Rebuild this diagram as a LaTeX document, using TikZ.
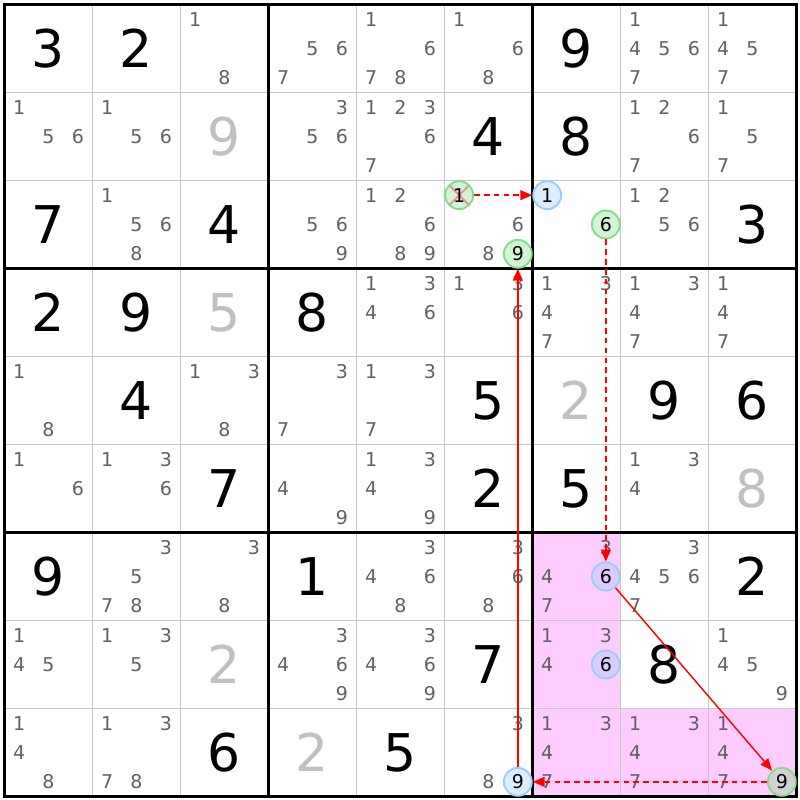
\documentclass[tikz,border=0pt]{standalone}
\usepackage{fontspec}
\setmainfont{DejaVu Sans}
\usetikzlibrary{arrows.meta}

\definecolor{candgray}{RGB}{96,96,96}
\definecolor{solvedgray}{RGB}{192,192,192}
\definecolor{gridgray}{RGB}{200,200,200}
\definecolor{hilite}{RGB}{255,204,255}
\definecolor{pickblue}{RGB}{153,204,255}
\definecolor{pickgreen}{RGB}{130,220,140}
\definecolor{crossred}{RGB}{240,140,140}
\definecolor{arcred}{RGB}{255,0,0}

\begin{document}
\begin{tikzpicture}[
    x=2.2cm, y=-2.2cm,
    given/.style={font=\fontsize{37}{37}\selectfont, inner sep=0},
    solved/.style={given, text=solvedgray},
    cand/.style={font=\fontsize{13.5}{13.5}\selectfont, text=candgray, inner sep=0},
    pick/.style={circle, minimum size=0.7cm, inner sep=0, line width=1.3pt,
        fill opacity=0.35, text opacity=1, font=\fontsize{13.5}{13.5}\selectfont},
    bluepick/.style={pick, draw=pickblue, fill=pickblue},
    greenpick/.style={pick, draw=pickgreen, fill=pickgreen},
    crossed/.style={path picture={
        \draw[crossred, line width=1.3pt]
            (path picture bounding box.north west) -- (path picture bounding box.south east)
            (path picture bounding box.north east) -- (path picture bounding box.south west);}},
    strongarc/.style={draw=arcred, fill=arcred, line width=1pt, -{Triangle[length=8.5pt,width=7pt]}},
    weakarc/.style={strongarc, dash pattern=on 4pt off 3pt}
]
\useasboundingbox (-0.0511,-0.0511) rectangle (9.0398,9.0398);

% === HIGHLIGHTED CELLS ===
\foreach \r/\c in {7/7, 8/7, 9/7, 9/8, 9/9}
    \fill[hilite] (\c-1, \r-1) rectangle (\c, \r);

% === GRID ===
\foreach \i in {1,2,4,5,7,8} {
    \draw[gridgray, line width=0.8pt] (\i, 0) -- (\i, 9);
    \draw[gridgray, line width=0.8pt] (0, \i) -- (9, \i);
}
\foreach \i in {3,6} {
    \draw[line width=2pt] (\i, 0) -- (\i, 9);
    \draw[line width=2pt] (0, \i) -- (9, \i);
}
\draw[line width=2pt] (0, 0) rectangle (9, 9);

% Givens (black) and solved cells (gray)
\foreach \r/\c/\v in {1/1/3, 1/2/2, 1/7/9, 2/6/4, 2/7/8, 3/1/7, 3/3/4, 3/9/3,
    4/1/2, 4/2/9, 4/4/8, 5/2/4, 5/6/5, 5/8/9, 5/9/6, 6/3/7, 6/6/2, 6/7/5,
    7/1/9, 7/4/1, 7/9/2, 8/6/7, 8/8/8, 9/3/6, 9/5/5}
    \node[given] (g\r\c) at (\c-0.5, \r-0.5) {\v};
\foreach \r/\c/\v in {2/3/9, 4/3/5, 5/7/2, 6/9/8, 8/3/2, 9/4/2}
    \node[solved] (s\r\c) at (\c-0.5, \r-0.5) {\v};

% Pencil marks
\foreach \r/\c/\ds in {1/3/{1,8}, 1/4/{5,6,7}, 1/5/{1,6,7,8}, 1/6/{1,6,8}, 1/8/{1,4,5,6,7}, 1/9/{1,4,5,7},
    2/1/{1,5,6}, 2/2/{1,5,6}, 2/4/{3,5,6}, 2/5/{1,2,3,6,7}, 2/8/{1,2,6,7}, 2/9/{1,5,7},
    3/2/{1,5,6,8}, 3/4/{5,6,9}, 3/5/{1,2,6,8,9}, 3/6/{6,8}, 3/8/{1,2,5,6},
    4/5/{1,3,4,6}, 4/6/{1,3,6}, 4/7/{1,3,4,7}, 4/8/{1,3,4,7}, 4/9/{1,4,7},
    5/1/{1,8}, 5/3/{1,3,8}, 5/4/{3,7}, 5/5/{1,3,7},
    6/1/{1,6}, 6/2/{1,3,6}, 6/4/{4,9}, 6/5/{1,3,4,9}, 6/8/{1,3,4},
    7/2/{3,5,7,8}, 7/3/{3,8}, 7/5/{3,4,6,8}, 7/6/{3,6,8}, 7/7/{3,4,7}, 7/8/{3,4,5,6,7},
    8/1/{1,4,5}, 8/2/{1,3,5}, 8/4/{3,4,6,9}, 8/5/{3,4,6,9}, 8/7/{1,3,4}, 8/9/{1,4,5,9},
    9/1/{1,4,8}, 9/2/{1,3,7,8}, 9/6/{3,8}, 9/7/{1,3,4,7}, 9/8/{1,3,4,7}, 9/9/{1,4,7}} {
    \foreach \d in \ds {
        \pgfmathsetmacro{\x}{\c - 1 + (2*mod(\d-1,3)+1)/6}
        \pgfmathsetmacro{\y}{\r - 1 + (2*floor((\d-1)/3)+1)/6}
        \node[cand] (k\r\c\d) at (\x, \y) {\d};
    }
}

% === CHAIN ===
\node[greenpick, crossed] (p361) at (5+1/6, 2+1/6) {1};
\node[greenpick] (p369) at (5+5/6, 2+5/6) {9};
\node[bluepick] (p371) at (6+1/6, 2+1/6) {1};
\node[greenpick] (p376) at (6+5/6, 2+1/2) {6};
\node[bluepick] (p776) at (6+5/6, 6+1/2) {6};
\node[bluepick] (p876) at (6+5/6, 7+1/2) {6};
\node[bluepick] (p969) at (5+5/6, 8+5/6) {9};
\node[greenpick] (p999) at (8+5/6, 8+5/6) {9};

\draw[weakarc] (p361) -- (p371);
\draw[weakarc] (p376) -- (p776);
\draw[strongarc] (p776) -- (p999);
\draw[weakarc] (p999) -- (p969);
\draw[strongarc] (p969) -- (p369);

\end{tikzpicture}
\end{document}
